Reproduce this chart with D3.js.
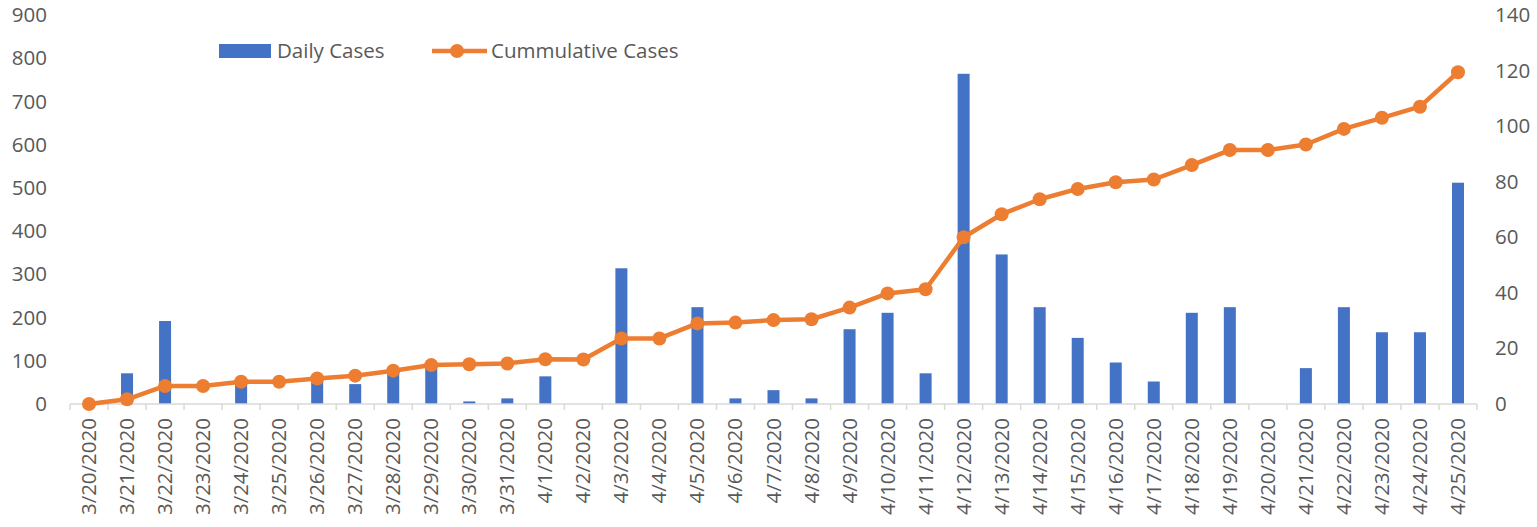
<!DOCTYPE html>
<html>
<head>
<meta charset="utf-8">
<script src="https://cdn.jsdelivr.net/npm/d3@7"></script>
<style>
  body { margin: 0; background: #fff; }
  svg text { font-family: "Open Sans", sans-serif; fill: #595959; }
</style>
</head>
<body>
<svg id="chart" width="1537" height="527"></svg>
<script>
// dates on the x axis
const dates = [
  "3/20/2020", "3/21/2020", "3/22/2020", "3/23/2020", "3/24/2020", "3/25/2020",
  "3/26/2020", "3/27/2020", "3/28/2020", "3/29/2020", "3/30/2020", "3/31/2020",
  "4/1/2020", "4/2/2020", "4/3/2020", "4/4/2020", "4/5/2020", "4/6/2020",
  "4/7/2020", "4/8/2020", "4/9/2020", "4/10/2020", "4/11/2020", "4/12/2020",
  "4/13/2020", "4/14/2020", "4/15/2020", "4/16/2020", "4/17/2020", "4/18/2020",
  "4/19/2020", "4/20/2020", "4/21/2020", "4/22/2020", "4/23/2020", "4/24/2020",
  "4/25/2020"
];

// bars, left axis
const dailyCases = [
  0, 71, 192, 0, 55, 0, 60, 46, 75, 90, 6, 13,
  64, 0, 314, 0, 224, 13, 32, 13, 173, 211, 71, 764,
  346, 224, 153, 96, 52, 211, 224, 0, 83, 224, 166, 166,
  512
];

// line, right axis
const cumulativeCases = [
  0, 1.7, 6.5, 6.5, 8.0, 8.0, 9.2, 10.2, 12.0, 14.0, 14.3, 14.6,
  16.1, 16.0, 23.6, 23.6, 29.0, 29.3, 30.2, 30.5, 34.7, 39.8, 41.3, 60.0,
  68.3, 73.7, 77.4, 79.8, 80.8, 86.0, 91.4, 91.4, 93.4, 99.0, 103.0, 107.0,
  119.4
];

const leftTicks = [0, 100, 200, 300, 400, 500, 600, 700, 800, 900];
const rightTicks = [0, 20, 40, 60, 80, 100, 120, 140];

const blue = "#4472C4";
const orange = "#ED7D31";

const svg = d3.select("#chart");
const x0 = 70, x1 = 1477, yTop = 15, yBase = 404;

const x = d3.scaleBand().domain(dates).range([x0, x1]).padding(0);
const yLeft = d3.scaleLinear().domain([0, 900]).range([yBase, yTop]);
const yRight = d3.scaleLinear().domain([0, 140]).range([yBase, yTop]);

// left axis labels
svg.append("g")
  .attr("transform", `translate(47,0)`)
  .call(d3.axisLeft(yLeft).tickValues(leftTicks).tickSize(0).tickPadding(0))
  .call(g => g.select(".domain").remove())
  .selectAll("text")
  .attr("font-size", 20.5)
  .attr("font-family", null)
  .attr("fill", "#595959");

// right axis labels
svg.append("g")
  .attr("transform", `translate(1495,0)`)
  .call(d3.axisRight(yRight).tickValues(rightTicks).tickSize(0).tickPadding(0))
  .call(g => g.select(".domain").remove())
  .selectAll("text")
  .attr("font-size", 20.5)
  .attr("font-family", null)
  .attr("fill", "#595959");

// bars
const barW = 12;
svg.append("g")
  .selectAll("rect")
  .data(dates)
  .join("rect")
  .attr("x", d => x(d) + x.bandwidth() / 2 - barW / 2)
  .attr("y", (d, i) => yLeft(dailyCases[i]))
  .attr("width", barW)
  .attr("height", (d, i) => yBase - yLeft(dailyCases[i]))
  .attr("fill", blue);

// x axis line + ticks at category boundaries
const xAxis = svg.append("g").attr("transform", `translate(0,${yBase})`);
xAxis.append("line")
  .attr("x1", x0).attr("x2", x1)
  .attr("stroke", "#D9D9D9").attr("stroke-width", 1.5);
xAxis.selectAll("line.tick")
  .data(dates.concat(["end"]))
  .join("line")
  .attr("class", "tick")
  .attr("x1", (d, i) => i < dates.length ? x(d) : x1)
  .attr("x2", (d, i) => i < dates.length ? x(d) : x1)
  .attr("y1", 0).attr("y2", 6)
  .attr("stroke", "#D9D9D9").attr("stroke-width", 1.5);

// rotated date labels
svg.append("g")
  .selectAll("text")
  .data(dates)
  .join("text")
  .attr("transform", d => `translate(${x(d) + x.bandwidth() / 2 + 7},418) rotate(-90)`)
  .attr("text-anchor", "end")
  .attr("font-size", 20.5)
  .text(d => d);

// cumulative line
const line = d3.line()
  .x((d, i) => x(dates[i]) + x.bandwidth() / 2)
  .y(d => yRight(d));

svg.append("path")
  .datum(cumulativeCases)
  .attr("d", line)
  .attr("fill", "none")
  .attr("stroke", orange)
  .attr("stroke-width", 4.5)
  .attr("stroke-linejoin", "round");

svg.append("g")
  .selectAll("circle")
  .data(cumulativeCases)
  .join("circle")
  .attr("cx", (d, i) => x(dates[i]) + x.bandwidth() / 2)
  .attr("cy", d => yRight(d))
  .attr("r", 7)
  .attr("fill", orange);

// legend
const legend = svg.append("g");
legend.append("rect")
  .attr("x", 219).attr("y", 44)
  .attr("width", 52).attr("height", 14)
  .attr("fill", blue);
legend.append("text")
  .attr("x", 277).attr("y", 58)
  .attr("font-size", 20.5)
  .text("Daily Cases");
legend.append("line")
  .attr("x1", 432).attr("x2", 487)
  .attr("y1", 51).attr("y2", 51)
  .attr("stroke", orange).attr("stroke-width", 4.5);
legend.append("circle")
  .attr("cx", 457).attr("cy", 51).attr("r", 7)
  .attr("fill", orange);
legend.append("text")
  .attr("x", 491).attr("y", 58)
  .attr("font-size", 20.5)
  .text("Cummulative Cases");
</script>
</body>
</html>
